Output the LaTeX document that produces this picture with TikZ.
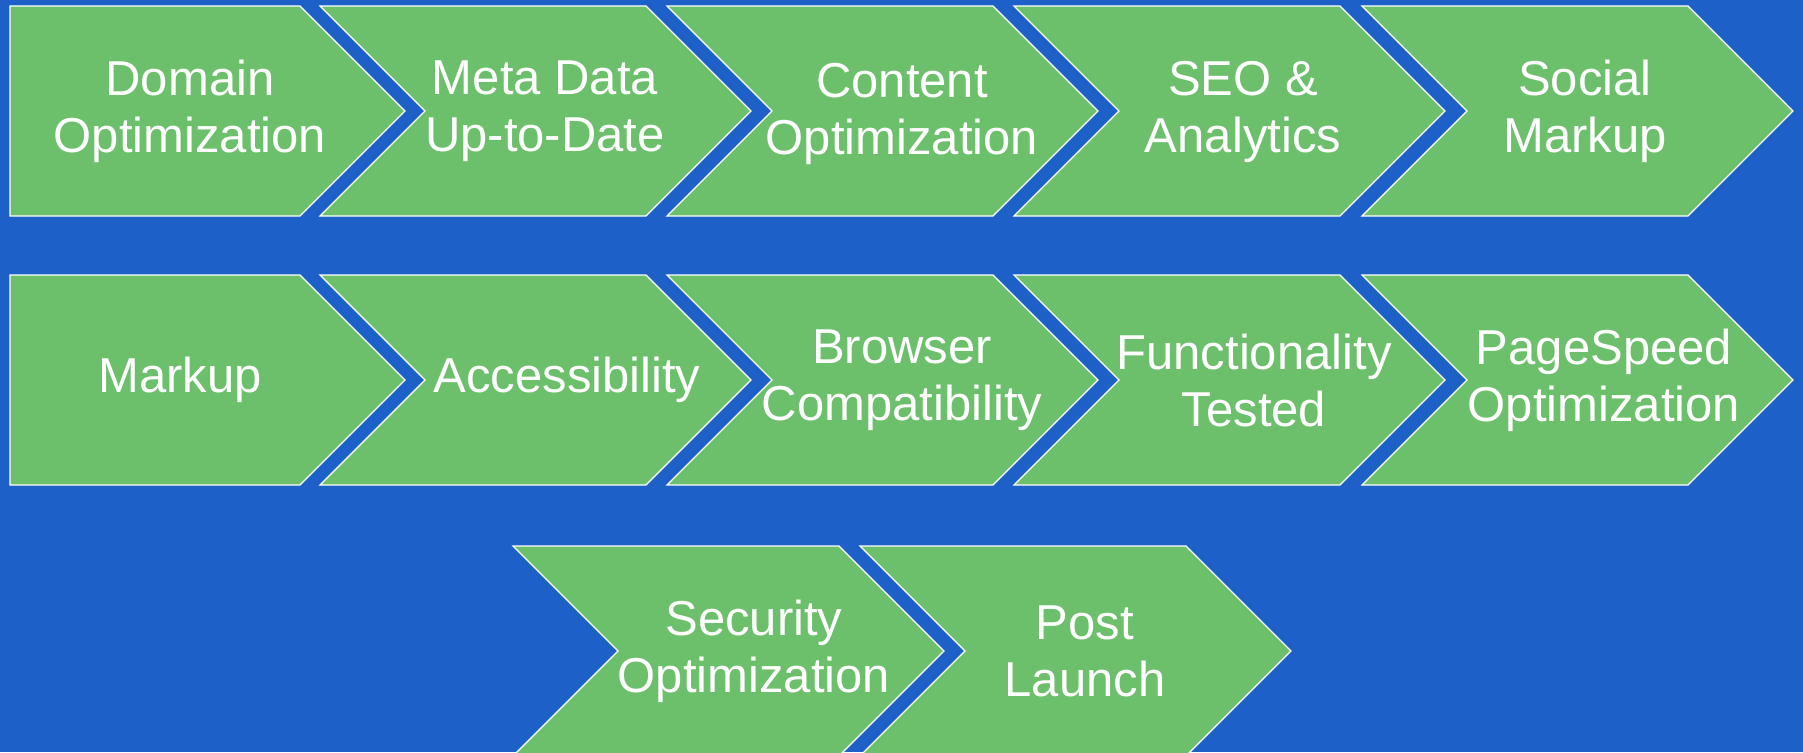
\documentclass[tikz,border=0pt]{standalone}
\usepackage{fontspec}
\setmainfont{Liberation Sans}
\definecolor{stepgreen}{RGB}{109,192,107}
\definecolor{deckblue}{RGB}{28,96,200}

\begin{document}
\begin{tikzpicture}[x=1pt, y=-1pt,
      stage/.style = {draw=white, line width=1.2pt, fill=stepgreen},
      every node/.style = {text=white, align=center, inner sep=0pt,
        font=\fontsize{49}{57}\selectfont},
      pics/home/.style = {code={
        \path[stage] (0,-105) -- (290,-105) -- (395,0) -- (290,105)
          -- (0,105) -- cycle;}},
      pics/chevron/.style = {code={
        \path[stage] (0,-105) -- (326,-105) -- (431,0) -- (326,105)
          -- (0,105) -- (105,0) -- cycle;}}]
  \fill[deckblue] (0,0) rectangle (1803,752);
  \useasboundingbox (0,0) rectangle (1803,752);
  % row one
  \pic at (10,111) {home};
  \pic at (320,111) {chevron};
  \pic at (667,111) {chevron};
  \pic at (1014,111) {chevron};
  \pic at (1362,111) {chevron};
  \node (domain) at (190,111) {Domain\\Optimization};
  \node (meta) at (545,111) {Meta Data\\Up-to-Date};
  \node (content) at (902,114) {Content\\Optimization};
  \node (seo) at (1243,112) {SEO \&\\Analytics};
  \node (social) at (1585,111) {Social\\Markup};
  % row two
  \pic at (10,380) {home};
  \pic at (320,380) {chevron};
  \pic at (667,380) {chevron};
  \pic at (1014,380) {chevron};
  \pic at (1362,380) {chevron};
  \node (markup) at (180,380) {Markup};
  \node (access) at (567,380) {Accessibility};
  \node (browser) at (902,380) {Browser\\Compatibility};
  \node (function) at (1254,380) {Functionality\\Tested};
  \node (pagespeed) at (1604,380) {PageSpeed\\Optimization};
  % row three
  \pic at (513,651) {chevron};
  \pic at (860,651) {chevron};
  \node (security) at (754,651) {Security\\Optimization};
  \node (launch) at (1085,651) {Post\\Launch};
\end{tikzpicture}
\end{document}
